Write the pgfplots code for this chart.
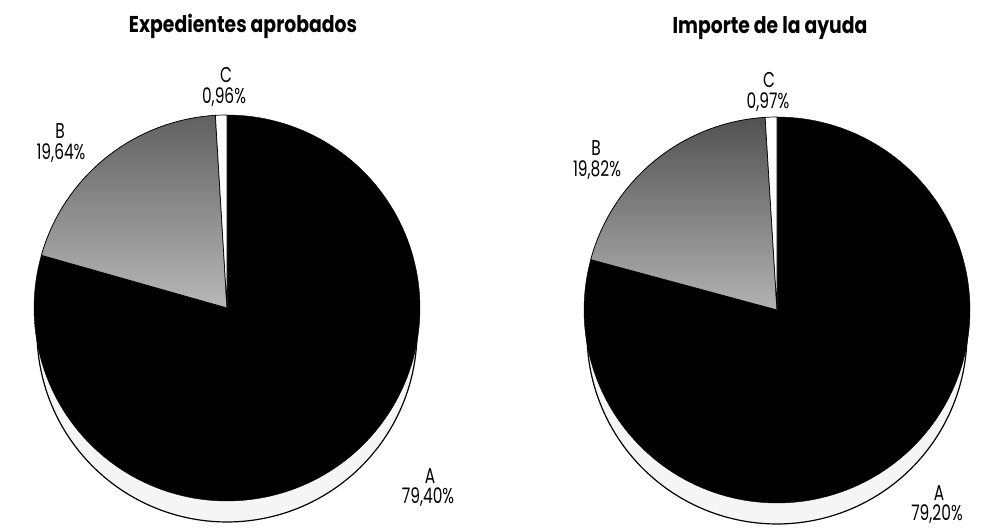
\documentclass[border=0pt]{standalone}
\usepackage{fontspec}
\setmainfont{Poppins}
\newfontfamily\titlefont{Poppins}[FakeStretch=0.82]
\newfontfamily\labelfont{Poppins}[FakeStretch=0.72]
\usepackage{pgfplots}
\pgfplotsset{compat=1.18}
\tikzset{lab/.style={anchor=base, inner sep=0pt, font=\labelfont\fontsize{21.5}{21.5}\selectfont},
  ttl/.style={anchor=base, inner sep=0pt, font=\titlefont\bfseries\fontsize{23}{23}\selectfont}}
\begin{document}
\begin{tikzpicture}
\begin{axis}[scale only axis, width=982bp, height=530bp,
  xmin=0, xmax=982, ymin=0, ymax=530, y dir=reverse,
  hide axis, clip=false, samples=150]
\path (axis cs:0,0) rectangle (axis cs:982,530);
% ---------- left pie: Expedientes aprobados (A 79.40, B 19.64, C 0.96)
\addplot[draw=black, line width=1.2pt, fill=black!4, domain=0:360, samples=200]
  ({227+190*cos(x)},{332-190*sin(x)}) -- cycle;
\addplot[draw=black, fill=black, domain=90-3.6*79.40:90]
  ({227+193*cos(x)},{308-193*sin(x)}) -- (axis cs:227,308) -- cycle;
\addplot[draw=black, line width=0.8pt, top color=black!62, bottom color=black!28,
  domain=90-3.6*(79.40+19.64):90-3.6*79.40]
  ({227+193*cos(x)},{308-193*sin(x)}) -- (axis cs:227,308) -- cycle;
\addplot[draw=black, line width=0.7pt, fill=white,
  domain=-270:90-3.6*(79.40+19.64), samples=10]
  ({227+193*cos(x)},{308-193*sin(x)}) -- (axis cs:227,308) -- cycle;
% ---------- right pie: Importe de la ayuda (A 79.20, B 19.82, C 0.97)
\addplot[draw=black, line width=1.2pt, fill=black!4, domain=0:360, samples=200]
  ({777+190*cos(x)},{334-190*sin(x)}) -- cycle;
\addplot[draw=black, fill=black, domain=90-3.6*79.20:90]
  ({777+193*cos(x)},{310-193*sin(x)}) -- (axis cs:777,310) -- cycle;
\addplot[draw=black, line width=0.8pt, top color=black!68, bottom color=black!30,
  domain=90-3.6*(79.20+19.82):90-3.6*79.20]
  ({777+193*cos(x)},{310-193*sin(x)}) -- (axis cs:777,310) -- cycle;
\addplot[draw=black, line width=0.7pt, fill=white,
  domain=-270:90-3.6*(79.20+19.82), samples=10]
  ({777+193*cos(x)},{310-193*sin(x)}) -- (axis cs:777,310) -- cycle;
% ---------- titles and labels
\node[ttl] at (axis cs:243,33) {Expedientes aprobados};
\node[ttl] at (axis cs:770,34) {Importe de la ayuda};
\node[lab] at (axis cs:226,83) {C};
\node[lab] at (axis cs:224,104) {0,96\%};
\node[lab] at (axis cs:60,139) {B};
\node[lab] at (axis cs:61,160) {19,64\%};
\node[lab] at (axis cs:430,484) {A};
\node[lab] at (axis cs:428,504) {79,40\%};
\node[lab] at (axis cs:769,88) {C};
\node[lab] at (axis cs:768,109) {0,97\%};
\node[lab] at (axis cs:596,156) {B};
\node[lab] at (axis cs:597,177) {19,82\%};
\node[lab] at (axis cs:939,501) {A};
\node[lab] at (axis cs:937,521) {79,20\%};
\end{axis}
\end{tikzpicture}
\end{document}
